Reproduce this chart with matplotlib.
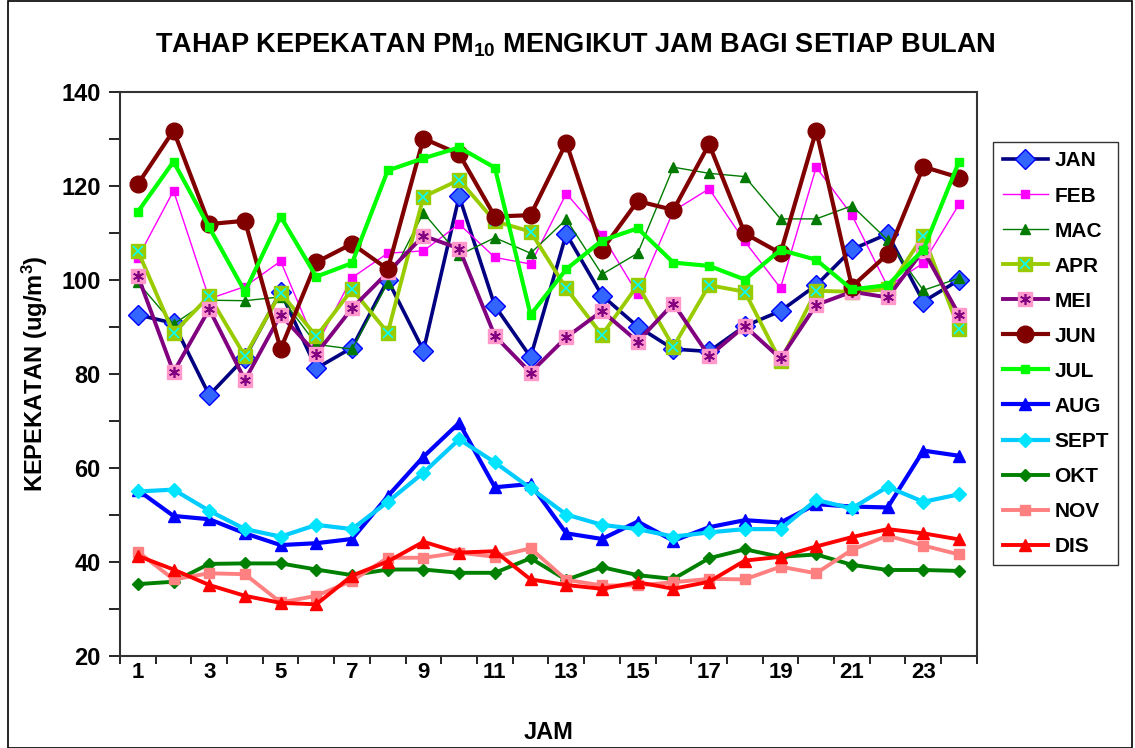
import matplotlib
matplotlib.use('Agg')
import matplotlib.pyplot as plt
from matplotlib.legend_handler import HandlerTuple
from matplotlib.patches import Rectangle

plt.rcParams['font.family'] = ['Liberation Sans', 'DejaVu Sans']
plt.rcParams['font.weight'] = 'bold'
plt.rcParams['mathtext.fontset'] = 'custom'
plt.rcParams['mathtext.default'] = 'regular'

# Hourly PM10 concentration per month
hours = list(range(1, 25))
jan = [92.6, 90.8, 75.5, 83.5, 97.5, 81.2, 85.6, 100, 85, 117.8, 94.5, 83.6,
       109.8, 96.7, 90.1, 85.3, 84.8, 90.2, 93.4, 98.9, 106.5, 109.8, 95.4, 100]
feb = [104.7, 119, 96, 98.6, 104, 86, 100.5, 105.7, 106.2, 111.9, 104.8, 103.4,
       118.4, 109.6, 97, 114.7, 119.4, 108.2, 98.3, 124, 113.8, 98.6, 103.6, 116.1]
mac = [99.5, 90.6, 95.7, 95.6, 96.4, 86.3, 85.3, 99.4, 114.3, 105.3, 109, 105.7,
       112.9, 101.2, 105.7, 124, 122.7, 122, 113, 113, 115.8, 108.5, 97.8, 100.4]
apr = [106.2, 88.7, 96.6, 83.8, 97.3, 88, 98, 88.8, 117.7, 121.3, 112.5, 110.3,
       98.2, 88.3, 98.9, 85.8, 98.9, 97.5, 82.7, 97.7, 97.5, 98, 109.4, 89.6]
mei = [100.9, 80.4, 93.8, 78.7, 92.6, 84.3, 94, 101.6, 109.4, 106.7, 88.1, 80.3,
       87.8, 93.4, 86.9, 95, 83.8, 90.2, 83.3, 94.7, 97.5, 96.3, 106.3, 92.6]
jun = [120.4, 131.8, 111.9, 112.6, 85.3, 103.8, 107.7, 102.3, 130.1, 126.8, 113.5, 113.8,
       129.2, 106.4, 116.8, 114.9, 128.9, 109.9, 105.7, 131.8, 98.6, 105.5, 124.1, 121.8]
jul = [114.5, 125.2, 111.2, 97.5, 113.5, 100.7, 103.6, 123.3, 125.9, 128.2, 123.9, 92.6,
       102.3, 108.4, 111, 103.7, 103, 100.1, 106.4, 104.3, 98, 98.9, 106.4, 125.2]
aug = [55.3, 49.8, 49.1, 46.1, 43.6, 44, 44.9, 54, 62.4, 69.6, 55.9, 56.6,
       46.1, 44.9, 48.6, 44.5, 47.4, 48.9, 48.4, 52.3, 51.8, 51.6, 63.7, 62.6]
sept = [55, 55.4, 50.9, 47, 45.4, 47.9, 47, 52.8, 59, 66.1, 61.2, 55.7,
        50.1, 47.9, 47, 45.4, 46.3, 47, 47, 53.2, 51.4, 56, 52.8, 54.4]
okt = [35.3, 35.8, 39.6, 39.7, 39.7, 38.4, 37.2, 38.4, 38.4, 37.7, 37.7, 40.8,
       36.2, 38.9, 37.2, 36.4, 40.8, 42.7, 41.1, 41.6, 39.4, 38.3, 38.3, 38.1]
nov = [42.2, 36.3, 37.6, 37.4, 31.4, 32.8, 36, 40.9, 40.9, 42, 41.1, 42.9,
       36.2, 35, 35, 35.7, 36.4, 36.3, 39, 37.6, 42.6, 45.6, 43.5, 41.6]
dis = [41.3, 38.4, 35.1, 32.8, 31.3, 31, 37.1, 40.1, 44.3, 42, 42.3, 36.3,
       35.1, 34.3, 35.7, 34.3, 35.8, 40.3, 41.1, 43.3, 45.3, 47, 46.1, 44.8]

months = ['JAN', 'FEB', 'MAC', 'APR', 'MEI', 'JUN', 'JUL', 'AUG', 'SEPT', 'OKT', 'NOV', 'DIS']
series = [jan, feb, mac, apr, mei, jun, jul, aug, sept, okt, nov, dis]

# (line colour, width, marker, marker size, face, edge, overlay marker, overlay colour)
styles = [
    ('#000080', 2.6, 'D', 10, '#3366ff', '#0000ff', None, None),
    ('#ff00ff', 1.0, 's', 5.5, '#ff00ff', '#ff00ff', None, None),
    ('#007a00', 1.0, '^', 7.5, '#007a00', '#007a00', None, None),
    ('#99cc00', 2.8, 's', 10.5, '#99cc00', '#99cc00', 'x', '#00ffff'),
    ('#800080', 2.8, 's', 10.5, '#ff99cc', '#ff99cc', (6, 2, 0), '#800080'),
    ('#800000', 3.0, 'o', 12, '#800000', '#800000', None, None),
    ('#00ff00', 3.0, 's', 6, '#00ff00', '#00ff00', None, None),
    ('#0000ff', 3.0, '^', 8.5, '#0000ff', '#0000ff', None, None),
    ('#00ccff', 3.0, 'D', 7.5, '#00e5ff', '#00e5ff', None, None),
    ('#008000', 2.8, 'D', 6.5, '#008000', '#008000', None, None),
    ('#ff8080', 2.8, 's', 7.5, '#ff8080', '#ff8080', None, None),
    ('#ff0000', 2.8, '^', 8.5, '#ff0000', '#ff0000', None, None),
]

fig = plt.figure(figsize=(11.35, 7.48), dpi=100)
ax = fig.add_axes([0.1057, 0.123, 0.755, 0.754])

handles = []
for name, vals, st in zip(months, series, styles):
    col, lw, mk, ms, fc, ec, ov, ovc = st
    ln, = ax.plot(hours, vals, color=col, lw=lw, marker=mk, ms=ms,
                  markerfacecolor=fc, markeredgecolor=ec, markeredgewidth=1, label=name)
    if ov is not None:
        ol, = ax.plot(hours, vals, linestyle='none', marker=ov, ms=ms * 0.75,
                      markeredgecolor=ovc, markeredgewidth=1.2, color=ovc)
        handles.append((ln, ol))
    else:
        handles.append(ln)

ax.set_xlim(0.5, 24.5)
ax.set_ylim(20, 140)
ax.set_xticks(range(1, 25, 2))
ax.set_xticklabels([str(h) for h in range(1, 25, 2)])
ax.set_xticks([h + 0.5 for h in range(0, 25)], minor=True)
ax.tick_params(axis='x', which='major', length=0, labelsize=16, pad=4)
ax.tick_params(axis='x', which='minor', length=6, width=1.2, direction='out')
ax.set_yticks(range(20, 141, 20))
ax.set_yticks(range(30, 140, 20), minor=True)
ax.tick_params(axis='y', which='both', length=8, width=1.2, direction='out', labelsize=17, pad=6)
for s in ax.spines.values():
    s.set_linewidth(1.5)
    s.set_color('#333333')

ax.set_xlabel('JAM', fontsize=17, fontweight='bold', labelpad=28)
ax.set_ylabel('KEPEKATAN (ug/m$^{3}$)', fontsize=17, fontweight='bold', labelpad=8)
fig.text(0.507, 0.94, 'TAHAP KEPEKATAN PM$_{10}$ MENGIKUT JAM BAGI SETIAP BULAN',
         ha='center', va='center', fontsize=19.5, fontweight='bold')

leg = fig.legend(handles, months, loc='upper left', bbox_to_anchor=(0.875, 0.81),
                 borderaxespad=0,
                 handler_map={tuple: HandlerTuple(ndivide=1)},
                 fontsize=15, frameon=True, fancybox=False, handlelength=2.2,
                 labelspacing=0.77, borderpad=0.45, handletextpad=0.3)
leg.get_frame().set_edgecolor('black')
leg.get_frame().set_linewidth(1.0)

fig.patches.append(Rectangle((0.007, 0.0), 0.99, 0.998, transform=fig.transFigure,
                             fill=False, edgecolor='black', linewidth=1.2))

fig.savefig('out.png', dpi=100)
